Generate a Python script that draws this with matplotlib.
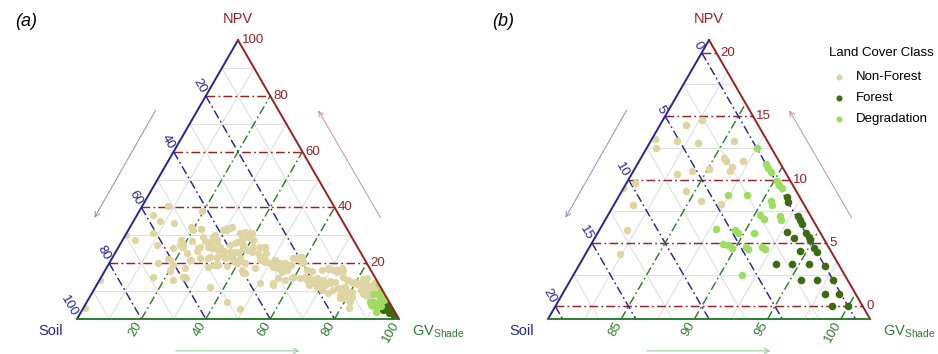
import numpy as np
import matplotlib.pyplot as plt
from matplotlib.patches import Polygon, FancyArrowPatch

plt.rcParams['font.family'] = ['Liberation Sans', 'DejaVu Sans']
plt.rcParams['mathtext.default'] = 'regular'

# fractions in percent; soil = 100 - gv - npv
# non-forest pixels with GV above 80 (visible in the zoomed window)
nf_zoom_gv = [82.7, 81.8, 80.2, 80.6, 81.8, 83.3, 85.7, 85.7, 85.9, 87.1, 86.6, 86.6,
              85.1, 84.0, 83.1, 80.6, 80.0, 84.4, 85.8, 87.3, 81.3, 81.9, 82.4]
nf_zoom_npv = [14.7, 14.3, 13.2, 12.5, 13.0, 12.9, 13.0, 11.7, 11.5, 11.5, 11.0, 10.7,
               10.8, 10.7, 10.4, 9.7, 9.3, 9.1, 8.3, 8.1, 8.0, 6.0, 4.1]

# remaining non-forest pixels
nf_gv = [7.9, 19.3, 4.8, 8.2, 12.9, 18.8, 19.7, 22.6, 18.3, 21.6, 3.9, 11.5, 24.6, 26.9,
         27.6, 29.3, 29.3, 30.2, 31.5, 35.3, 36.5, 38.2, 36.9, 38.6, 17.3, 20.0, 22.2, 24.9,
         25.2, 27.9, 29.5, 31.5, 34.3, 35.4, 38.4, 40.3, 41.8, 24.7, 17.7, 15.3, 20.2, 30.1,
         32.3, 34.0, 36.3, 36.8, 38.0, 34.2, 37.2, 31.4, 32.7, 39.6, 40.1, 42.2, 45.4, 44.5,
         46.7, 47.1, 46.3, 48.1, 50.0, 50.9, 53.1, 54.7, 56.5, 56.3, 58.6, 58.7, 60.3, 51.6,
         53.4, 55.1, 56.3, 62.5, 64.2, 67.2, 69.0, 70.8, 72.2, 73.1, 75.1, 16.2, 20.1, 22.9,
         25.6, 35.5, 43.4, 48.9, 43.5, 50.4, 54.9, 57.6, 59.6, 62.0, 64.3, 67.0, 68.8, 70.9,
         72.2, 73.4, 65.8, 68.6, 70.8, 73.5, 74.4, 75.7, 77.4, 77.3, 79.4, 78.1, 78.0, 0.2,
         0.6, 8.3, 0.1, 19.6, 18.7, 18.3, 20.3, 24.3, 26.5, 20.2, 22.4, 27.8, 29.2, 27.4,
         25.8, 30.5, 31.2, 37.0, 35.7, 38.9, 40.6, 29.2, 31.5, 33.5, 35.6, 37.0, 25.0, 27.3,
         24.5, 29.9, 32.4, 35.1, 38.0, 39.7, 39.0, 42.2, 43.9, 45.7, 45.7, 47.8, 50.5, 52.8,
         54.6, 56.8, 42.4, 44.0, 55.2, 59.4, 54.6, 25.9, 46.2, 56.8, 58.1, 60.0, 69.1, 71.9,
         74.1, 63.2, 65.1, 67.1, 69.5, 71.8, 76.8, 78.6, 77.2, 79.4, 77.4, 79.5]
nf_npv = [40.5, 38.8, 37.3, 35.1, 34.5, 33.1, 32.1, 32.1, 28.3, 28.1, 28.3, 26.5, 29.3, 27.7,
          29.5, 28.1, 31.9, 32.5, 33.1, 30.7, 31.3, 30.7, 28.6, 29.3, 25.3, 25.7, 23.8, 24.5,
          25.9, 25.7, 25.7, 25.9, 26.5, 27.4, 26.5, 24.7, 25.9, 21.1, 21.4, 20.0, 19.4, 22.3,
          22.1, 22.9, 22.3, 23.5, 24.1, 19.4, 19.0, 18.8, 19.4, 20.0, 21.1, 20.0, 25.9, 23.5,
          22.3, 23.5, 21.1, 20.5, 20.0, 21.1, 20.0, 18.8, 19.4, 21.7, 22.3, 21.1, 20.0, 18.8,
          18.2, 17.0, 17.6, 17.6, 17.3, 17.6, 18.2, 17.6, 17.0, 18.2, 15.2, 14.9, 17.6, 14.0,
          14.9, 11.6, 6.2, 3.5, 16.4, 12.8, 12.2, 14.0, 15.2, 14.6, 14.0, 12.8, 13.4, 12.2,
          12.8, 13.4, 12.2, 11.6, 10.4, 9.2, 10.4, 11.0, 11.6, 14.0, 12.8, 9.2, 7.4, 14.0,
          3.8, 30.7, 30.1, 26.8, 26.5, 21.1, 17.2, 18.4, 14.8, 31.9, 32.3, 30.1, 28.3, 27.7,
          28.0, 31.9, 32.7, 28.3, 27.7, 30.7, 28.3, 25.3, 24.7, 24.4, 23.9, 24.1, 25.3, 21.8,
          21.1, 21.8, 22.0, 21.8, 21.1, 21.8, 25.3, 24.1, 25.9, 25.3, 22.3, 21.1, 20.0, 19.4,
          20.0, 19.4, 17.6, 16.4, 14.6, 14.6, 12.8, 15.2, 18.2, 21.8, 22.3, 20.5, 17.9, 17.6,
          17.2, 15.2, 14.6, 14.6, 14.0, 13.6, 14.0, 13.4, 11.0, 9.8, 8.6, 7.4]

forest_gv = [91.5, 91.8, 93.0, 93.3, 93.6, 92.9, 93.6, 94.2, 94.6, 94.8, 94.5, 95.4, 95.7,
             93.4, 94.5, 95.7, 96.8, 95.7, 96.8, 97.9, 97.9, 98.9, 98.9, 100.0]
forest_npv = [8.6, 8.2, 7.1, 6.8, 6.5, 5.9, 5.4, 5.8, 5.5, 5.2, 4.4, 4.6, 4.3,
              3.3, 3.3, 3.3, 3.2, 2.1, 2.1, 2.1, 1.0, 1.0, 0.0, 0.0]

degr_gv = [87.5, 88.8, 89.1, 89.4, 90.2, 90.5, 90.8, 87.4, 88.7, 90.6, 90.8, 90.4, 90.8,
           91.8, 92.0, 87.9, 89.3, 89.6, 90.7, 89.0, 89.4, 89.8, 90.7, 90.9, 91.8, 92.1, 91.5]
degr_npv = [12.5, 11.2, 10.9, 10.6, 9.9, 9.6, 9.3, 8.8, 8.8, 8.3, 8.0, 7.2, 6.9,
            7.1, 6.8, 6.1, 6.0, 5.8, 5.8, 4.9, 4.8, 4.6, 4.7, 4.5, 4.7, 4.5, 2.5]

classes = ['Non-Forest', 'Forest', 'Degradation']
class_colors = ['#DFD5A3', '#3D6B12', '#9FDC63']

C_NPV = '#9C2020'
C_SOIL = '#25259B'
C_GV = '#2C7F2C'
C_GRID = '#E0E0E0'

SQ3 = np.sqrt(3) / 2


def tern(gv, npv, win):
    """ternary (gv, npv) -> cartesian, window = (gv min, npv min, span)"""
    gv0, npv0, span = win
    gv = np.asarray(gv, float)
    npv = np.asarray(npv, float)
    return (gv - gv0) + (npv - npv0) / 2, (npv - npv0) * SQ3


def draw_panel(ax, win, npv_major, soil_major, gv_major,
               npv_minor, soil_minor, gv_minor, npv_lab, soil_lab, gv_lab, s):
    gv0, npv0, span = win
    soil0 = 100 - span - gv0 - npv0

    def npv_line(v):
        return [gv0, 100 - v - soil0], [v, v]

    def soil_line(v):
        return [gv0, 100 - v - npv0], [100 - v - gv0, npv0]

    def gv_line(v):
        return [v, v], [npv0, 100 - v - soil0]

    dash = (0, (6, 2.2, 1.2, 2.2))
    for vals, fn in ((npv_minor, npv_line), (soil_minor, soil_line), (gv_minor, gv_line)):
        for v in vals:
            x, y = tern(*fn(v), win)
            ax.plot(x, y, color=C_GRID, lw=0.8, zorder=1)
    for vals, fn, c in ((npv_major, npv_line, C_NPV), (soil_major, soil_line, C_SOIL),
                        (gv_major, gv_line, C_GV)):
        for v in vals:
            x, y = tern(*fn(v), win)
            ax.plot(x, y, color=c, lw=1.05, ls=dash, zorder=2)

    # triangle outline
    corners_gv = [gv0, 100 - npv0 - soil0, gv0]
    corners_npv = [npv0, npv0, 100 - gv0 - soil0]
    cx, cy = tern(corners_gv, corners_npv, win)
    tri = Polygon(np.column_stack([cx, cy]), closed=True, fc='none', ec='none',
                  transform=ax.transData)
    ax.add_patch(tri)
    ax.plot([cx[0], cx[2]], [cy[0], cy[2]], color=C_SOIL, lw=1.4, zorder=5)
    ax.plot([cx[2], cx[1]], [cy[2], cy[1]], color=C_NPV, lw=1.4, zorder=5)
    ax.plot([cx[0], cx[1]], [cy[0], cy[1]], color=C_GV, lw=1.4, zorder=5)

    # points
    all_gv = [nf_zoom_gv + nf_gv, forest_gv, degr_gv]
    all_npv = [nf_zoom_npv + nf_npv, forest_npv, degr_npv]
    handles = []
    for name, c, g, n in zip(classes, class_colors, all_gv, all_npv):
        x, y = tern(g, n, win)
        sc = ax.scatter(x, y, s=s, color=c, linewidths=0, zorder=3, label=name)
        sc.set_clip_path(tri)
        handles.append(sc)

    # tick labels
    for v in npv_lab:
        x, y = tern(100 - v - soil0, v, win)
        ax.annotate(str(v), (x, y), xytext=(2.5, 0), textcoords='offset points',
                    ha='left', va='center', fontsize=9.5, color=C_NPV)
    for v in soil_lab:
        x, y = tern(gv0, 100 - v - gv0, win)
        ax.annotate(str(v), (x, y), xytext=(-1.5, 2.6), textcoords='offset points',
                    ha='right', va='center', rotation=-60, rotation_mode='anchor',
                    fontsize=9.5, color=C_SOIL)
    for v in gv_lab:
        x, y = tern(v, npv0, win)
        ax.annotate(str(v), (x, y), xytext=(-1.5, -2.6), textcoords='offset points',
                    ha='right', va='center', rotation=60, rotation_mode='anchor',
                    fontsize=9.5, color=C_GV)

    # axis titles
    ax.annotate('NPV', (cx[2], cy[2]), xytext=(0, 15.5), textcoords='offset points',
                ha='center', va='center', fontsize=10.5, color=C_NPV)
    ax.annotate('Soil', (cx[0], cy[0]), xytext=(-19, -8.5), textcoords='offset points',
                ha='center', va='center', fontsize=10.5, color=C_SOIL)
    ax.annotate('GV$_{Shade}$', (cx[1], cy[1]), xytext=(9, -9), textcoords='offset points',
                ha='left', va='center', fontsize=10.5, color=C_GV)

    # direction arrows
    arrows = [((0.248, 0.655), (0.05, 0.307), '#8C8CC8'),
              ((0.947, 0.307), (0.745, 0.655), '#C89292'),
              ((0.298, -0.099), (0.699, -0.099), '#8FC88F')]
    for p0, p1, c in arrows:
        ax.add_patch(FancyArrowPatch((p0[0] * span, p0[1] * span),
                                     (p1[0] * span, p1[1] * span),
                                     arrowstyle='->', mutation_scale=9, lw=0.7,
                                     color=c, zorder=1))
    return handles


W, H = 938, 354
fig = plt.figure(figsize=(W / 100, H / 100), dpi=100)


def panel_axes(left_px, width_px, origin_px, scale):
    ax = fig.add_axes([left_px / W, 0, width_px / W, 1])
    ox, oy = origin_px
    ax.set_xlim(-(ox - left_px) / scale, (left_px + width_px - ox) / scale)
    ax.set_ylim(-(H - oy) / scale, oy / scale)
    ax.axis('off')
    return ax


ax_a = panel_axes(0, 469, (77, 319), 3.22)
draw_panel(ax_a, (0, 0, 100),
           [20, 40, 60, 80], [20, 40, 60, 80], [20, 40, 60, 80],
           [10, 30, 50, 70, 90], [10, 30, 50, 70, 90], [10, 30, 50, 70, 90],
           [20, 40, 60, 80, 100], [20, 40, 60, 80, 100], [20, 40, 60, 80, 100], s=27)

ax_b = panel_axes(469, 469, (548, 319), 14.64)
handles = draw_panel(ax_b, (80, -1, 22),
                     [0, 5, 10, 15, 20], [0, 5, 10, 15, 20], [85, 90, 95, 100],
                     [2.5, 7.5, 12.5, 17.5], [2.5, 7.5, 12.5, 17.5], [82.5, 87.5, 92.5, 97.5],
                     [0, 5, 10, 15, 20], [0, 5, 10, 15, 20], [85, 90, 95, 100], s=30)

fig.text(15 / W, 1 - 21 / H, '(a)', style='italic', fontsize=13, va='center')
fig.text(492 / W, 1 - 21 / H, '(b)', style='italic', fontsize=13, va='center')

fig.text(829 / W, 1 - 53 / H, 'Land Cover Class', fontsize=9.5, va='center')
fig.legend(handles=handles, loc='upper left', bbox_to_anchor=(829 / W, 1 - 71 / H),
           frameon=False, fontsize=9.5, borderpad=0, borderaxespad=0,
           handlelength=1.5, handletextpad=0.55, labelspacing=0.66,
           scatterpoints=1, markerscale=0.8)

fig.savefig('out.png', dpi=100)
